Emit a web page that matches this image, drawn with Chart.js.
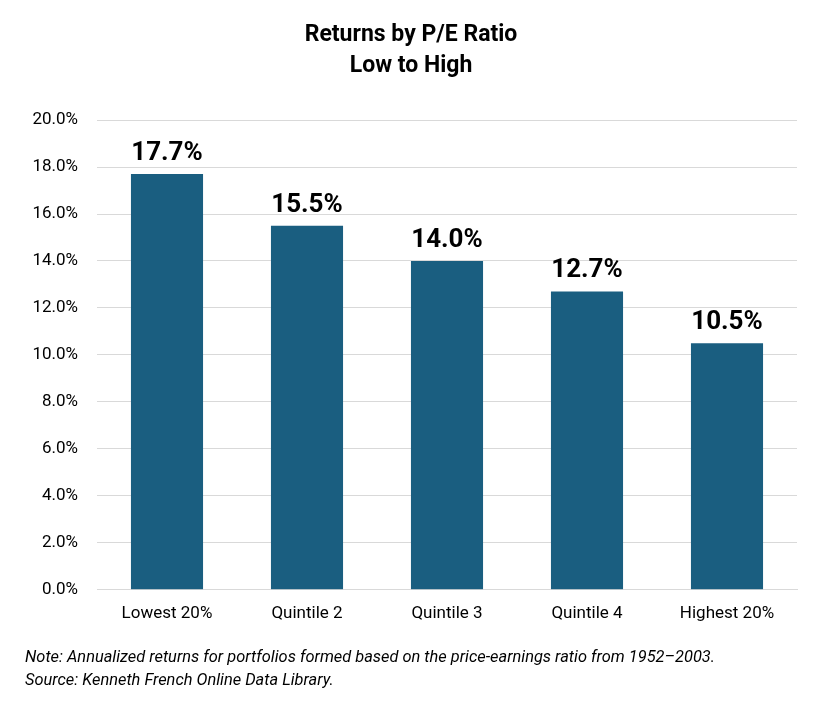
<!DOCTYPE html>
<html>
<head>
<meta charset="utf-8">
<script src="https://cdn.jsdelivr.net/npm/chart.js@4"></script>
<style>
  body { margin: 0; background: #fff; }
  #wrap { width: 829px; height: 716px; position: relative; }
</style>
</head>
<body>
<div id="wrap"><canvas id="peChart"></canvas></div>
<script>
// Datos del gráfico
const categorias = ['Lowest 20%', 'Quintile 2', 'Quintile 3', 'Quintile 4', 'Highest 20%'];
const rentabilidades = [17.7, 15.5, 14.0, 12.7, 10.5];
const tituloLineas = ['Returns by P/E Ratio', 'Low to High'];
const notaLineas = [
    'Note: Annualized returns for portfolios formed based on the price-earnings ratio from 1952\u20132003.',
    'Source: Kenneth French Online Data Library.'
];

const fuente = "'Liberation Sans Narrow', 'Arial Narrow', 'Roboto', sans-serif";

// Plugin sencillo para escribir el valor encima de cada barra
const etiquetasValor = {
    id: 'etiquetasValor',
    afterDatasetsDraw(chart) {
        const ctx = chart.ctx;
        const meta = chart.getDatasetMeta(0);
        ctx.save();
        ctx.font = 'bold 26px ' + fuente;
        ctx.fillStyle = '#000';
        ctx.textAlign = 'center';
        ctx.textBaseline = 'alphabetic';
        meta.data.forEach((bar, i) => {
            ctx.fillText(rentabilidades[i].toFixed(1) + '%', bar.x, bar.y - 14);
        });
        ctx.restore();
    }
};

const ctx = document.getElementById('peChart').getContext('2d');
new Chart(ctx, {
    type: 'bar',
    data: {
        labels: categorias,
        datasets: [{
            data: rentabilidades,
            backgroundColor: '#1A5E80',
            categoryPercentage: 1,
            barPercentage: 0.515
        }]
    },
    options: {
        responsive: true,
        maintainAspectRatio: false,
        animation: false,
        layout: { padding: { left: 25, right: 32, top: 8, bottom: 24 } },
        plugins: {
            legend: { display: false },
            tooltip: { enabled: false },
            title: {
                display: true,
                text: tituloLineas,
                color: '#000',
                font: { family: fuente, size: 23, weight: 'bold', lineHeight: 1.35 },
                padding: { top: 12, bottom: 38 }
            },
            subtitle: {
                display: true,
                position: 'bottom',
                align: 'start',
                text: notaLineas,
                color: '#000',
                font: { family: fuente, size: 16.4, style: 'italic', lineHeight: 1.4 },
                padding: { top: 8, bottom: 0 }
            }
        },
        scales: {
            x: {
                grid: { display: false, drawTicks: false },
                border: { color: '#D9D9D9', width: 1 },
                ticks: { color: '#000', font: { family: fuente, size: 17 }, padding: 14 }
            },
            y: {
                min: 0,
                max: 20,
                afterFit(scale) { scale.width = 72; },
                grid: { color: '#D9D9D9', drawTicks: false },
                border: { display: false },
                ticks: {
                    stepSize: 2,
                    color: '#000',
                    padding: 19,
                    font: { family: fuente, size: 17 },
                    callback: v => v.toFixed(1) + '%'
                }
            }
        }
    },
    plugins: [etiquetasValor]
});
</script>
</body>
</html>
